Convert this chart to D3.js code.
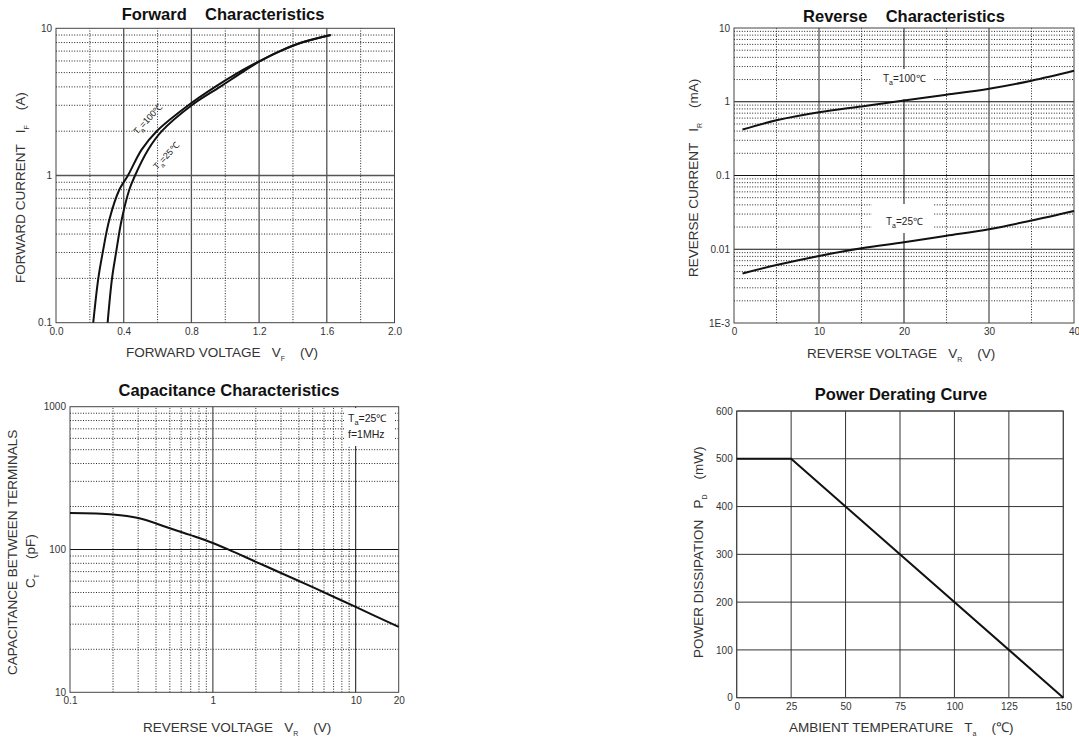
<!DOCTYPE html>
<html>
<head>
<meta charset="utf-8">
<script src="https://cdn.jsdelivr.net/npm/d3@7"></script>
<style>
  body { margin: 0; background: #fff; }
  svg { font-family: "Liberation Sans", Arial, sans-serif; }
  text { white-space: pre; }
</style>
</head>
<body>
<svg id="sheet" width="1079" height="740"></svg>
<script>
// ---- Forward characteristics: [VF (V), IF (A)]
const fwd100 = [[0.22,0.1],[0.25,0.2],[0.276,0.3],[0.315,0.5],[0.374,0.8],[0.425,1],[0.506,1.5],[0.595,2],[0.782,3],[0.94,4],[1.077,5],[1.205,6],[1.323,7],[1.452,8],[1.623,9]]
const fwd25 = [[0.305,0.1],[0.331,0.2],[0.355,0.3],[0.388,0.5],[0.433,0.8],[0.467,1],[0.545,1.5],[0.625,2],[0.802,3],[0.969,4],[1.097,5],[1.208,6],[1.325,7],[1.452,8],[1.623,9]]
const fwdXTicks = [0, 0.4, 0.8, 1.2, 1.6, 2.0]
const fwdXLabels = ["0.0", "0.4", "0.8", "1.2", "1.6", "2.0"]
const fwdYTicks = [0.1, 1, 10]
const fwdYLabels = ["0.1", "1", "10"]

// ---- Reverse characteristics: [VR (V), IR (mA)]
const rev100 = [[1,0.42],[5,0.56],[10,0.72],[15,0.865],[20,1.04],[25,1.245],[30,1.5],[35,1.93],[40,2.63]]
const rev25 = [[1,0.0047],[5,0.0061],[10,0.0081],[15,0.0103],[20,0.0124],[25,0.0152],[30,0.0187],[35,0.0245],[40,0.033]]
const revXTicks = [0, 10, 20, 30, 40]
const revYTicks = [0.001, 0.01, 0.1, 1, 10]
const revYLabels = ["1E-3", "0.01", "0.1", "1", "10"]

// ---- Capacitance: [VR (V), CT (pF)]
const capCurve = [[0.1,180],[0.2,176],[0.3,166],[0.5,141],[0.7,126],[1,111],[1.3,99.5],[2,82],[3,68.5],[5,54.5],[10,39.6],[20,28.7]]
const capXTicks = [0.1, 1, 10, 20]
const capXLabels = ["0.1", "1", "10", "20"]
const capYTicks = [10, 100, 1000]

// ---- Power derating: [Ta (C), PD (mW)]
const derating = [[0,500],[25,500],[150,0]]
const pdXTicks = [0, 25, 50, 75, 100, 125, 150]
const pdYTicks = [0, 100, 200, 300, 400, 500, 600]

const svg = d3.select("#sheet")
const DOT = "1,1.6"

function gridLines(g, vals, orient, x, y, style) {
  const [xa, xb] = x.range(), [ya, yb] = y.range()
  g.append("g")
    .selectAll("line")
    .data(vals)
    .join("line")
    .attr("x1", d => orient === "v" ? x(d) : xa)
    .attr("x2", d => orient === "v" ? x(d) : xb)
    .attr("y1", d => orient === "v" ? ya : y(d))
    .attr("y2", d => orient === "v" ? yb : y(d))
    .attr("stroke", style.color || "#222")
    .attr("stroke-width", style.width || 1)
    .attr("stroke-dasharray", style.dash || null)
}

function axes(g, x, y, xt, xl, yt, yl) {
  const [ya] = y.range(), [xa] = x.range()
  const ax = g.append("g")
    .attr("transform", "translate(0," + ya + ")")
    .call(d3.axisBottom(x).tickValues(xt).tickSize(0).tickPadding(5)
      .tickFormat((d, i) => xl[i]))
  const ay = g.append("g")
    .attr("transform", "translate(" + xa + ",0)")
    .call(d3.axisLeft(y).tickValues(yt).tickSize(0).tickPadding(4)
      .tickFormat((d, i) => yl[i]))
  ;[ax, ay].forEach(a => {
    a.select(".domain").remove()
    a.selectAll("text").attr("font-size", 10).attr("fill", "#333")
      .attr("font-family", "Liberation Sans, Arial, sans-serif")
  })
}

function frame(g, x, y) {
  const [xa, xb] = x.range(), [ya, yb] = y.range()
  g.append("rect")
    .attr("x", xa).attr("y", yb)
    .attr("width", xb - xa).attr("height", ya - yb)
    .attr("fill", "none").attr("stroke", "#444").attr("stroke-width", 1)
}

function curve(g, data, x, y) {
  g.append("path")
    .datum(data)
    .attr("fill", "none")
    .attr("stroke", "#111")
    .attr("stroke-width", 2)
    .attr("d", d3.line().x(d => x(d[0])).y(d => y(d[1])).curve(d3.curveCatmullRom.alpha(0.5)))
}

// title text plus axis label with subscript
function title(txt, cx, by) {
  svg.append("text").attr("x", cx).attr("y", by)
    .attr("text-anchor", "middle").attr("font-size", 16.5).attr("font-weight", "bold")
    .attr("fill", "#111").text(txt)
}

function axisLabel(x, y, rot, main, sym, sub, unit) {
  const t = svg.append("text")
    .attr("transform", "translate(" + x + "," + y + ")" + (rot ? " rotate(-90)" : ""))
    .attr("font-size", 13.5).attr("fill", "#333")
  t.append("tspan").text(main + "   " + sym)
  t.append("tspan").attr("font-size", 7).attr("dy", 4).text(sub)
  t.append("tspan").attr("dy", -4).text("    " + unit)
}

function tempLabel(g, x, y, rot, val, size) {
  const t = g.append("text")
    .attr("transform", "translate(" + x + "," + y + ") rotate(" + rot + ")")
    .attr("font-size", size).attr("fill", "#222")
  t.append("tspan").text("T")
  t.append("tspan").attr("font-size", size * 0.7).attr("dy", 3).text("a")
  t.append("tspan").attr("dy", -3).text("=" + val + "\u2103")
}

/* Forward Characteristics */
{
  const g = svg.append("g")
  const x = d3.scaleLinear().domain([0, 2]).range([56, 394.5])
  const y = d3.scaleLog().domain([0.1, 10]).range([322.7, 28.3])
  gridLines(g, [0.2, 0.6, 1.0, 1.4, 1.8], "v", x, y, { dash: DOT })
  gridLines(g, y.ticks().filter(d => ![0.1, 1, 10].includes(d)), "h", x, y, { dash: DOT })
  gridLines(g, [0.4, 0.8, 1.2, 1.6], "v", x, y, { color: "#555", width: 1.3 })
  gridLines(g, [1], "h", x, y, { color: "#555", width: 1.3 })
  frame(g, x, y)
  curve(g, fwd100, x, y)
  curve(g, fwd25, x, y)
  tempLabel(g, 137, 135, -47, "100", 9)
  tempLabel(g, 157, 170, -47, "25", 9)
  axes(g, x, y, fwdXTicks, fwdXLabels, fwdYTicks, fwdYLabels)
  title("Forward    Characteristics", 223, 20)
  axisLabel(126, 357, false, "FORWARD VOLTAGE", "V", "F", "(V)")
  axisLabel(25, 283, true, "FORWARD CURRENT", "I", "F", "(A)")
}

/* Reverse Characteristics */
{
  const g = svg.append("g")
  const x = d3.scaleLinear().domain([0, 40]).range([734, 1074])
  const y = d3.scaleLog().domain([0.001, 10]).range([323, 28])
  gridLines(g, [5, 15, 25, 35], "v", x, y, { dash: DOT })
  gridLines(g, y.ticks().filter(d => !revYTicks.includes(d)), "h", x, y, { dash: DOT })
  gridLines(g, [10, 30], "v", x, y, { color: "#777", width: 1.6 })
  gridLines(g, [20], "v", x, y, { color: "#111", width: 1 })
  gridLines(g, [0.01, 0.1, 1], "h", x, y, { color: "#111", width: 1 })
  frame(g, x, y)
  g.append("rect").attr("x", 871).attr("y", 69).attr("width", 62).attr("height", 30).attr("fill", "#fff")
  g.append("rect").attr("x", 872).attr("y", 204).attr("width", 62).attr("height", 29).attr("fill", "#fff")
  curve(g, rev100, x, y)
  curve(g, rev25, x, y)
  tempLabel(g, 883, 82, 0, "100", 10)
  tempLabel(g, 886, 225, 0, "25", 10)
  axes(g, x, y, revXTicks, revXTicks.map(String), revYTicks, revYLabels)
  title("Reverse    Characteristics", 904, 22)
  axisLabel(807, 358, false, "REVERSE VOLTAGE", "V", "R", "(V)")
  axisLabel(698, 277, true, "REVERSE CURRENT", "I", "R", "(mA)")
}

/* Capacitance Characteristics */
{
  const g = svg.append("g")
  const x = d3.scaleLog().domain([0.1, 20]).range([70, 398.7])
  const y = d3.scaleLog().domain([10, 1000]).range([692.3, 406.7])
  gridLines(g, x.ticks().filter(d => ![0.1, 1, 10, 20].includes(d)), "v", x, y, { dash: DOT })
  gridLines(g, y.ticks().filter(d => ![10, 100, 1000].includes(d)), "h", x, y, { dash: DOT })
  gridLines(g, [1], "v", x, y, { color: "#666", width: 1.4 })
  gridLines(g, [10], "v", x, y, { color: "#111", width: 1 })
  gridLines(g, [100], "h", x, y, { color: "#111", width: 1 })
  frame(g, x, y)
  g.append("rect").attr("x", 344).attr("y", 408).attr("width", 50).attr("height", 38).attr("fill", "#fff")
  curve(g, capCurve, x, y)
  tempLabel(g, 348, 422, 0, "25", 10.5)
  g.append("text").attr("x", 348).attr("y", 438).attr("font-size", 10.5).attr("fill", "#222").text("f=1MHz")
  axes(g, x, y, capXTicks, capXLabels, capYTicks, capYTicks.map(String))
  title("Capacitance Characteristics", 229, 396)
  axisLabel(143, 732, false, "REVERSE VOLTAGE", "V", "R", "(V)")
  svg.append("text")
    .attr("transform", "translate(17,675) rotate(-90)")
    .attr("font-size", 13.5).attr("fill", "#333")
    .text("CAPACITANCE BETWEEN TERMINALS")
  const ct = svg.append("text")
    .attr("transform", "translate(35,588) rotate(-90)")
    .attr("font-size", 13.5).attr("fill", "#333")
  ct.append("tspan").text("C")
  ct.append("tspan").attr("font-size", 7).attr("dy", 4).text("T")
  ct.append("tspan").attr("dy", -4).text("    (pF)")
}

/* Power Derating Curve */
{
  const g = svg.append("g")
  const x = d3.scaleLinear().domain([0, 150]).range([736.7, 1063.3])
  const y = d3.scaleLinear().domain([0, 600]).range([697.7, 411])
  gridLines(g, pdXTicks, "v", x, y, { color: "#333", width: 1 })
  gridLines(g, pdYTicks, "h", x, y, { color: "#333", width: 1 })
  frame(g, x, y)
  g.append("path")
    .datum(derating)
    .attr("fill", "none").attr("stroke", "#111").attr("stroke-width", 2)
    .attr("d", d3.line().x(d => x(d[0])).y(d => y(d[1])))
  axes(g, x, y, pdXTicks, pdXTicks.map(String), pdYTicks, pdYTicks.map(String))
  title("Power Derating Curve", 901, 400)
  axisLabel(789, 732, false, "AMBIENT TEMPERATURE", "T", "a", "(\u2103)")
  axisLabel(703, 658, true, "POWER DISSIPATION", "P", "D", "(mW)")
}
</script>
</body>
</html>
